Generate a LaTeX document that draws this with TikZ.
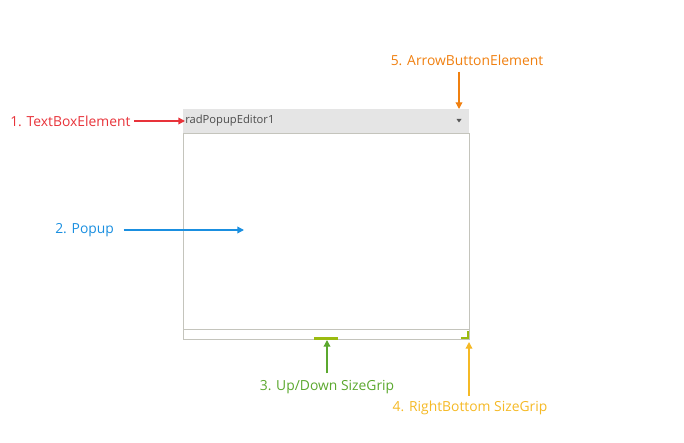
\documentclass[tikz,border=0pt]{standalone}
\usepackage{fontspec}
\setmainfont{Open Sans}
\usetikzlibrary{arrows.meta, positioning, calc}

\definecolor{tbred}{HTML}{E8333A}
\definecolor{popblue}{HTML}{1A8FE0}
\definecolor{udgreen}{HTML}{5BA82E}
\definecolor{rbyellow}{HTML}{F5B925}
\definecolor{btnorange}{HTML}{F08010}
\definecolor{framegray}{HTML}{C4C4BC}
\definecolor{headgray}{HTML}{E5E5E5}
\definecolor{barlime}{HTML}{9BBB10}

\tikzset{
  lbl/.style={inner sep=0pt, font=\fontsize{10.4}{12}\selectfont},
  callout/.style={line width=1pt, -{Triangle[length=5pt, width=5pt]}},
}

\begin{document}
\begin{tikzpicture}[x=0.75pt, y=-0.75pt]
        \useasboundingbox (0,0) rectangle (684,442);
        % editor: header and popup
        \fill[headgray] (183,109) rectangle (469,133);
        \draw[framegray] (183.5,133) rectangle (469,339);
        \draw[framegray] (183.5,329) -- (469,329);
        \node[lbl, anchor=west, text=black!70, font=\fontsize{8.4}{10}\selectfont] (editortext) at (185,121) {radPopupEditor1};
        \fill[black!65] (456.5,119) -- (461.5,119) -- (459,122.5) -- cycle;
        \coordinate (btntop) at (459,109);
        % size grips
        \draw[barlime, line width=2.2pt] (314,338.5) -- (338,338.5);
        \draw[barlime, line width=2.2pt] (461,338) -- (468,338) -- (468,331);
        \coordinate (udgrip) at (327,340);
        \coordinate (rbgrip) at (469,342);
        \coordinate (popin) at (244,230);

        % labels
        \node[lbl, anchor=west, text=tbred] (tblabel) at (10,121) {1. TextBoxElement};
        \node[lbl, anchor=west, text=popblue] (poplabel) at (55,230) {2. Popup};
        \node[lbl, text=udgreen] (udlabel) at (327,387) {3. Up/Down SizeGrip};
        \node[lbl, text=rbyellow] (rblabel) at (470,408) {4. RightBottom SizeGrip};
        \node[lbl, text=btnorange] (btnlabel) at (467,60) {5. ArrowButtonElement};

        % callouts
        \draw[callout, tbred] ([xshift=2.5pt]tblabel.east) -- (editortext.west);
        \draw[callout, popblue] ([xshift=7pt]poplabel.east) -- (popin);
        \draw[callout, udgreen] ([yshift=5pt]udlabel.north) -- (udgrip);
        \draw[callout, rbyellow] (rblabel.north -| rbgrip) ++(0,-5) -- (rbgrip);
        \draw[callout, btnorange] (btnlabel.south -| btntop) ++(0,6) -- (btntop);
    \end{tikzpicture}
\end{document}
